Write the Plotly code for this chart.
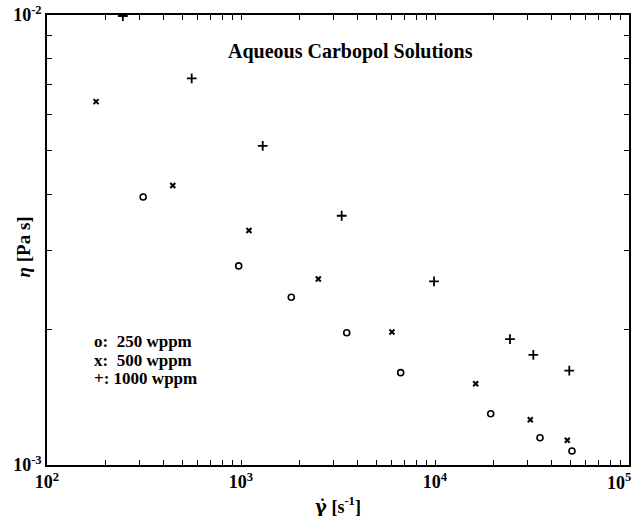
import plotly.graph_objects as go

# Shear rate (1/s) and viscosity (Pa s) for three Carbopol concentrations
rate_250 = [313, 973, 1816, 3507, 6653, 19370, 34780, 50820]
eta_250 = [3.94e-3, 2.77e-3, 2.36e-3, 1.968e-3, 1.604e-3, 1.300e-3, 1.150e-3, 1.074e-3]

rate_500 = [179, 445, 1099, 2503, 5999, 16210, 30980, 48080]
eta_500 = [6.42e-3, 4.18e-3, 3.32e-3, 2.59e-3, 1.975e-3, 1.516e-3, 1.261e-3, 1.135e-3]

rate_1000 = [246, 557, 1294, 3304, 9883, 24350, 32130, 49230]
eta_1000 = [9.95e-3, 7.23e-3, 5.12e-3, 3.58e-3, 2.56e-3, 1.905e-3, 1.756e-3, 1.621e-3]

x_decades = [100, 1000, 10000]
x_decade_labels = ["<b>10<sup>2</sup></b>", "<b>10<sup>3</sup></b>",
                   "<b>10<sup>4</sup></b>"]
x_end = 100000
x_end_label = "<b>10<sup>5</sup></b>"
y_decades = [0.001, 0.01]
y_decade_labels = ["<b>10<sup>-3</sup></b>", "<b>10<sup>-2</sup></b>"]

legend_lines = ["o:  250 wppm", "x:  500 wppm", "+: 1000 wppm"]

FONT = "Liberation Serif"

def minor_vals(decades):
    return [d * m for d in decades[:-1] for m in range(2, 10)]

fig = go.Figure()
fig.add_trace(go.Scatter(x=rate_250, y=eta_250, mode="markers",
                         marker=dict(symbol="circle-open", size=6, color="black",
                                     line=dict(width=1.6, color="black"))))
fig.add_trace(go.Scatter(x=rate_500, y=eta_500, mode="markers",
                         marker=dict(symbol="x-thin-open", size=5, color="black",
                                     line=dict(width=2, color="black"))))
fig.add_trace(go.Scatter(x=rate_1000, y=eta_1000, mode="markers",
                         marker=dict(symbol="cross-thin-open", size=7, color="black",
                                     line=dict(width=1.8, color="black"))))

axis_common = dict(type="log", showline=True, linecolor="black", linewidth=1.5,
                   mirror="allticks", ticks="inside", ticklen=5, tickwidth=1,
                   tickcolor="black", showgrid=False, zeroline=False,
                   ticklabeloverflow="allow", automargin=False,
                   tickfont=dict(family=FONT, size=18, color="black"))

fig.update_xaxes(range=[2, 5], tickmode="array", tickvals=x_decades,
                 ticktext=x_decade_labels,
                 minor=dict(tickmode="array", tickvals=minor_vals(x_decades + [x_end]),
                            ticks="inside", ticklen=5, tickwidth=1, tickcolor="black",
                            showgrid=False),
                 **axis_common)
fig.update_yaxes(range=[-3, -2], tickmode="array", tickvals=y_decades,
                 ticktext=y_decade_labels,
                 minor=dict(tickmode="array", tickvals=minor_vals(y_decades),
                            ticks="inside", ticklen=5, tickwidth=1, tickcolor="black",
                            showgrid=False),
                 **axis_common)

# last decade label, kept inside the page edge
fig.add_annotation(text=x_end_label, xref="paper", yref="paper", x=1.007, y=-0.036,
                   xanchor="right", yanchor="middle", showarrow=False,
                   font=dict(family=FONT, size=18, color="black"))

# axis titles
fig.add_annotation(
    text="<b><span style=\"font-family:'DejaVu Serif'\">γ̇</span> [s<sup>-1</sup>]</b>",
    xref="paper", yref="paper", x=0.5, y=-0.089, xanchor="center", yanchor="middle",
    showarrow=False, font=dict(family=FONT, size=18, color="black"))
fig.add_annotation(text="<b><i>η</i> [Pa s]</b>", xref="paper", yref="paper",
                   x=-0.04, y=0.485, xanchor="center", yanchor="middle", textangle=-90,
                   showarrow=False, font=dict(family=FONT, size=19, color="black"))

fig.add_annotation(text="<b>Aqueous Carbopol Solutions</b>", xref="paper", yref="paper",
                   x=0.522, y=0.918, xanchor="center", yanchor="middle", showarrow=False,
                   font=dict(family=FONT, size=20, color="black"))

legend_y = [0.275, 0.233, 0.193]
for line, yy in zip(legend_lines, legend_y):
    fig.add_annotation(text="<b>" + line.replace("  ", "&nbsp;&nbsp;") + "</b>",
                       xref="paper", yref="paper", x=0.078, y=yy, xanchor="left",
                       yanchor="middle", align="left", showarrow=False,
                       font=dict(family=FONT, size=17, color="black"))

fig.update_layout(width=637, height=516, showlegend=False,
                  margin=dict(l=47, r=8, t=15, b=51, autoexpand=False),
                  paper_bgcolor="white", plot_bgcolor="white")

fig.write_html("out.html")
